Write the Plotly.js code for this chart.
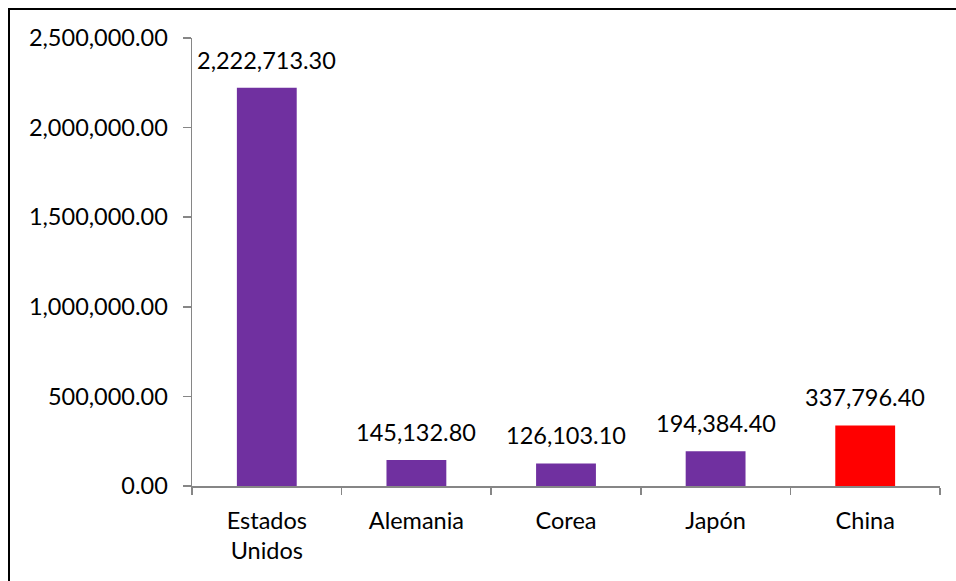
<!DOCTYPE html>
<html>
<head>
<meta charset="utf-8">
<script src="https://cdn.plot.ly/plotly-3.0.1.min.js"></script>
<style>
html,body{margin:0;padding:0;background:#fff;}
#chart{width:956px;height:581px;}
</style>
</head>
<body>
<div id="chart"></div>
<script>
const categories = ["Estados<br>Unidos", "Alemania", "Corea", "Japón", "China"];
const values = [2222713.30, 145132.80, 126103.10, 194384.40, 337796.40];
const barColors = ["#7030A0", "#7030A0", "#7030A0", "#7030A0", "#FF0000"];
const yTickVals = [0, 500000, 1000000, 1500000, 2000000, 2500000];

const fmt = v => v.toLocaleString('en-US', {minimumFractionDigits: 2, maximumFractionDigits: 2});
const FONT = 'Lato';
const FS = 23.5;

const trace = {
  type: 'bar',
  x: categories,
  y: values,
  marker: {color: barColors, line: {width: 0}},
  hoverinfo: 'none'
};

const annotations = categories.map((c, i) => ({
  x: c, y: values[i], xref: 'x', yref: 'y',
  text: fmt(values[i]), showarrow: false,
  yanchor: 'bottom', yshift: 12,
  font: {family: FONT, size: FS, color: '#000'}
}));

const layout = {
  width: 956, height: 581,
  margin: {l: 192, r: 16, t: 38, b: 95},
  paper_bgcolor: '#fff', plot_bgcolor: '#fff',
  font: {family: FONT, size: FS, color: '#000'},
  bargap: 0.6,
  showlegend: false,
  xaxis: {
    type: 'category',
    showline: true, linecolor: '#868686', linewidth: 1.5,
    ticks: 'outside', tickson: 'boundaries', ticklen: 7, tickcolor: '#868686', tickwidth: 1.5,
    ticklabelstandoff: 13,
    showgrid: false, zeroline: false,
    tickfont: {family: FONT, size: FS, color: '#000'}
  },
  yaxis: {
    range: [0, 2500000],
    tickvals: yTickVals,
    ticktext: yTickVals.map(fmt),
    showline: true, linecolor: '#868686', linewidth: 1.5,
    ticks: 'outside', ticklen: 8, tickcolor: '#868686', tickwidth: 1.5,
    ticklabelstandoff: 10,
    showgrid: false, zeroline: false,
    tickfont: {family: FONT, size: FS, color: '#000'}
  },
  annotations: annotations,
  shapes: [{
    type: 'rect', xref: 'paper', yref: 'paper',
    x0: (9 - 192) / 748, x1: (962 - 192) / 748,
    y0: (486 - 590) / 448, y1: (486 - 9) / 448,
    line: {color: '#000', width: 2}, fillcolor: 'rgba(0,0,0,0)', layer: 'above'
  }]
};

Plotly.newPlot('chart', [trace], layout, {displayModeBar: false, staticPlot: true});
</script>
</body>
</html>
